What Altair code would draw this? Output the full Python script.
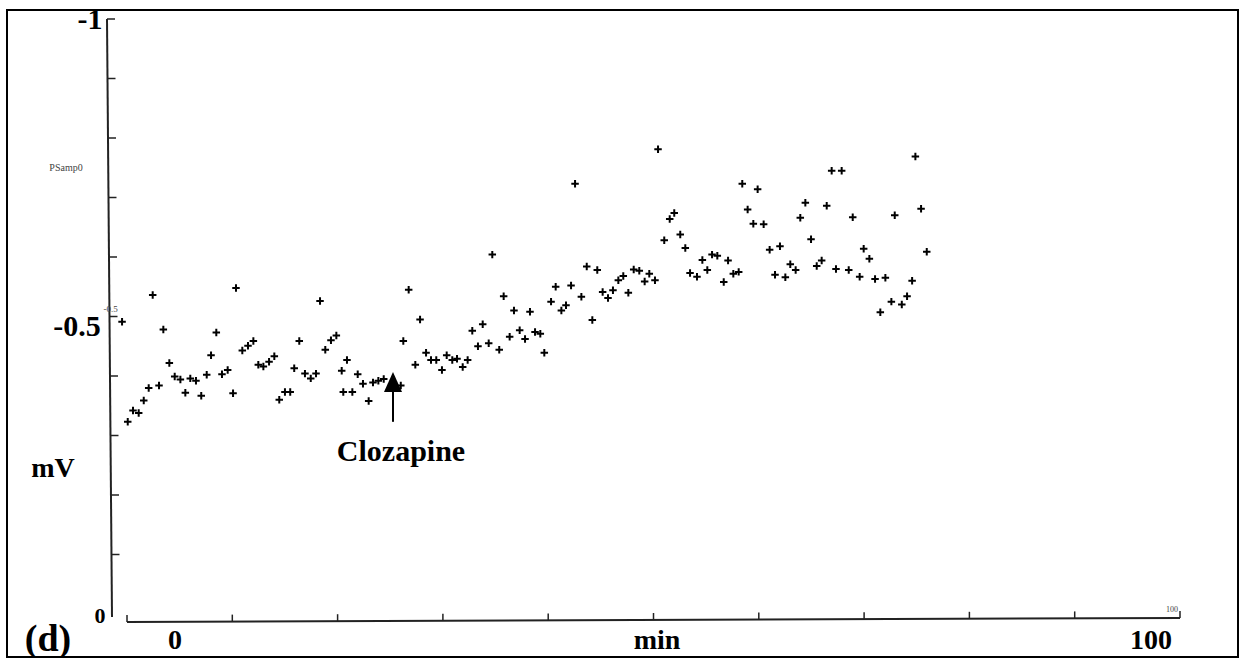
import altair as alt
import pandas as pd

# Recording: time (min) and potential (mV)
time_min = [-0.47, 0.07, 0.57, 1.11, 1.59, 2.06, 2.44, 3.04, 3.45, 4.02,
            4.53, 5.07, 5.54, 6.01, 6.55, 7.05, 7.57, 7.98, 8.48, 9.02,
            9.56, 10.07, 10.35, 10.95, 11.49, 12.00, 12.47, 12.95, 13.49, 13.99,
            14.46, 15.00, 15.50, 15.88, 16.36, 16.90, 17.45, 17.95, 18.33, 18.83,
            19.37, 19.88, 20.39, 20.54, 20.89, 21.40, 21.91, 22.41, 22.95, 23.36,
            23.87, 24.38, 26.00, 26.24, 26.75, 27.38, 27.83, 28.40, 28.87, 29.37,
            29.91, 30.36, 30.89, 31.34, 31.88, 32.35, 32.79, 33.33, 33.78, 34.35,
            34.69, 35.35, 35.77, 36.34, 36.75, 37.29, 37.80, 38.27, 38.75, 39.25,
            39.63, 40.27, 40.71, 41.25, 41.69, 42.17, 42.55, 43.15, 43.66, 44.19,
            44.66, 45.17, 45.68, 46.15, 46.66, 47.13, 47.61, 48.12, 48.65, 49.16,
            49.60, 50.14, 50.43, 51.02, 51.54, 51.97, 52.54, 53.02, 53.47, 54.13,
            54.64, 55.11, 55.56, 56.06, 56.67, 57.08, 57.58, 58.09, 58.43, 58.94,
            59.48, 59.89, 60.46, 61.03, 61.54, 62.01, 62.52, 62.99, 63.50, 63.94,
            64.42, 64.96, 65.50, 65.97, 66.45, 66.92, 67.33, 67.87, 68.54, 68.92,
            69.58, 69.96, 70.50, 71.04, 71.54, 72.02, 72.59, 72.91, 73.58, 74.08,
            74.56, 74.87, 75.41, 75.95]
potential_mv = [-0.491, -0.323, -0.342, -0.338, -0.359, -0.380, -0.536, -0.384, -0.478, -0.422,
                -0.399, -0.394, -0.372, -0.396, -0.392, -0.367, -0.402, -0.435, -0.473, -0.403,
                -0.410, -0.371, -0.548, -0.443, -0.451, -0.459, -0.419, -0.416, -0.424, -0.433,
                -0.360, -0.373, -0.373, -0.413, -0.459, -0.404, -0.396, -0.404, -0.526, -0.444,
                -0.460, -0.468, -0.409, -0.373, -0.427, -0.373, -0.403, -0.387, -0.358, -0.389,
                -0.392, -0.395, -0.384, -0.459, -0.545, -0.419, -0.495, -0.439, -0.427, -0.427,
                -0.410, -0.435, -0.427, -0.429, -0.415, -0.427, -0.476, -0.450, -0.487, -0.455,
                -0.604, -0.444, -0.534, -0.466, -0.510, -0.477, -0.462, -0.508, -0.474, -0.471,
                -0.439, -0.525, -0.550, -0.510, -0.519, -0.552, -0.723, -0.533, -0.584, -0.494,
                -0.578, -0.541, -0.531, -0.544, -0.561, -0.568, -0.540, -0.579, -0.577, -0.559,
                -0.572, -0.561, -0.781, -0.628, -0.664, -0.674, -0.638, -0.615, -0.573, -0.567,
                -0.595, -0.578, -0.604, -0.602, -0.558, -0.594, -0.572, -0.575, -0.723, -0.680,
                -0.656, -0.714, -0.655, -0.612, -0.570, -0.618, -0.566, -0.588, -0.578, -0.666,
                -0.691, -0.630, -0.585, -0.594, -0.686, -0.745, -0.580, -0.745, -0.578, -0.667,
                -0.567, -0.614, -0.597, -0.563, -0.507, -0.565, -0.525, -0.670, -0.520, -0.534,
                -0.560, -0.769, -0.681, -0.609]

y_ticks = [-1.0, -0.9, -0.8, -0.7, -0.6, -0.5, -0.4, -0.3, -0.2, -0.1]
x_ticks = [0, 10, 20, 30, 40, 50, 60, 70, 80, 90, 100]

label_text = ["-1", "-0.5", "0", "(d)", "0", "min", "100", "mV", "Clozapine"]
label_x = [-3.51, -4.75, -2.56, -7.50, 4.56, 50.33, 97.25, -7.03, 26.02]
label_y = [-0.998, -0.483, 0.003, 0.043, 0.045, 0.045, 0.045, -0.244, -0.273]
label_size = [30, 30, 22, 38, 28, 28, 28, 28, 30]

small_text = ["PSamp0", "-0.5", "100"]
small_x = [-5.79, -1.55, 99.24]
small_y = [-0.750, -0.512, -0.006]
small_size = [10, 9, 8]

arrow_x = [25.26]
arrow_tail = [-0.323]
arrow_neck = [-0.375]
arrow_head = [-0.390]

W, H = 1073, 595
xs = alt.Scale(domain=[-1.9, 100], nice=False, zero=False)
ys = alt.Scale(domain=[-1, 0], nice=False, zero=False, reverse=True)

pts = pd.DataFrame({"t": time_min, "mv": potential_mv})
base_one = pd.DataFrame({"a": [0]})

points = alt.Chart(pts).mark_point(
    shape="M-1,0L1,0M0,-1L0,1", filled=False, stroke="black",
    strokeWidth=2, size=56, opacity=1
).encode(
    x=alt.X("t:Q", scale=xs, axis=None),
    y=alt.Y("mv:Q", scale=ys, axis=None),
)

border = alt.Chart(base_one).mark_rect(fill=None, stroke="black", strokeWidth=2).encode(
    x=alt.value(-100), x2=alt.value(1131), y=alt.value(-9), y2=alt.value(638)
)

y_line = alt.Chart(base_one).mark_rule(color="#222", strokeWidth=2).encode(
    x=alt.value(0), x2=alt.value(5), y=alt.value(0), y2=alt.value(598)
)

y_tick_marks = alt.Chart(pd.DataFrame({"v": y_ticks})).transform_calculate(
    tx0="(datum.v + 1) * 5", tx1="(datum.v + 1) * 5 + 8"
).mark_rule(color="#222", strokeWidth=1.5).encode(
    x=alt.X("tx0:Q", scale=None), x2="tx1:Q",
    y=alt.Y("v:Q", scale=ys, axis=None),
)

x_line = alt.Chart(base_one).mark_rule(color="#222", strokeWidth=2).encode(
    x=alt.X(datum=0, scale=xs, axis=None), x2=alt.X2(datum=100),
    y=alt.value(603), y2=alt.value(599)
)

x_tick_marks = alt.Chart(pd.DataFrame({"v": x_ticks})).transform_calculate(
    ty0="603 - 4 * datum.v / 100", ty1="603 - 4 * datum.v / 100 - 7"
).mark_rule(color="#222", strokeWidth=1.5).encode(
    x=alt.X("v:Q", scale=xs, axis=None),
    y=alt.Y("ty0:Q", scale=None), y2="ty1:Q",
)

labels = alt.Chart(pd.DataFrame({"text": label_text, "x": label_x, "y": label_y, "s": label_size})).mark_text(
    font="Liberation Serif", fontWeight="bold", align="center", baseline="middle", color="black"
).encode(
    x=alt.X("x:Q", scale=xs, axis=None),
    y=alt.Y("y:Q", scale=ys, axis=None),
    text="text:N",
    size=alt.Size("s:Q", scale=None, legend=None),
)

small = alt.Chart(pd.DataFrame({"text": small_text, "x": small_x, "y": small_y, "s": small_size})).mark_text(
    font="Liberation Serif", align="center", baseline="middle", color="#444"
).encode(
    x=alt.X("x:Q", scale=xs, axis=None),
    y=alt.Y("y:Q", scale=ys, axis=None),
    text="text:N",
    size=alt.Size("s:Q", scale=None, legend=None),
)

arrow_df = pd.DataFrame({"x": arrow_x, "tail": arrow_tail, "neck": arrow_neck, "head": arrow_head})
shaft = alt.Chart(arrow_df).mark_rule(color="black", strokeWidth=2).encode(
    x=alt.X("x:Q", scale=xs, axis=None),
    y=alt.Y("tail:Q", scale=ys, axis=None), y2="neck:Q",
)
head = alt.Chart(arrow_df).mark_point(
    shape="M0,-1L0.9,1L-0.9,1Z", filled=True, color="black", size=400, opacity=1
).encode(
    x=alt.X("x:Q", scale=xs, axis=None),
    y=alt.Y("head:Q", scale=ys, axis=None),
)

chart = alt.layer(
    border, y_line, y_tick_marks, x_line, x_tick_marks, points, shaft, head, labels, small
).properties(
    width=W, height=H,
    autosize=alt.AutoSizeParams(type="none"),
    padding={"left": 107, "top": 19, "right": 61, "bottom": 44},
    background="white",
).configure_view(stroke=None)

chart.save("out.html", embed_options={"renderer": "svg", "actions": False})
